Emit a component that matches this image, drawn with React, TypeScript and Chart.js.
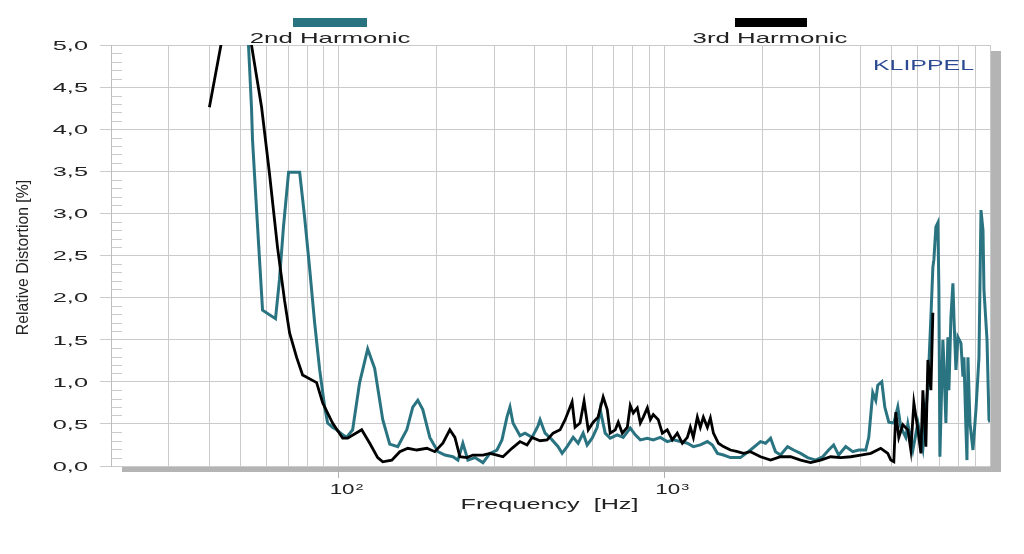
import React, { useEffect, useRef } from 'react';
import { Chart, registerables } from 'chart.js';

Chart.register(...registerables);

// 2nd harmonic (teal)
const h2Freq = [
  52.1, 52.9, 54.0, 54.4, 55.9, 57.1, 58.4, 64.0, 65.8, 67.7, 70.2, 75.9, 78.6, 81.4, 84.4, 87.4, 90.6, 92.5,
  95.8, 98.6, 102.9, 105.8, 110.4, 116.0, 122.8, 129.0, 136.6, 143.5, 151.9, 161.9, 168.9, 175.0, 181.3, 190.5,
  201.7, 212.0, 224.3, 232.4, 240.7, 249.4, 262.1, 277.4, 291.5, 306.3, 317.3, 328.7, 335.8, 343.0, 360.5,
  373.5, 392.5, 409.7, 415.4, 430.4, 452.3, 471.9, 485.5, 503, 524.8, 543.7, 563.3, 579.5, 600.3, 622, 635.4,
  658.3, 682, 716.8, 747.8, 786, 814.2, 844, 887, 925, 972.1, 1021, 1066, 1120, 1177, 1228, 1290, 1356, 1405,
  1456, 1519, 1596, 1713, 1839, 1974, 2046, 2120, 2195, 2275, 2390, 2494, 2621, 2754, 2915, 3064, 3196, 3311,
  3430, 3606, 3789, 3954, 4154, 4244, 4365, 4459, 4523, 4653, 4753, 4890, 5066, 5211, 5323, 5514, 5594, 5797,
  6006, 6222, 6446, 6585, 6677, 6725, 6821, 6918, 6967, 7017, 7167, 7218, 7321, 7425, 7478, 7586, 7694, 7749,
  7860, 7971, 8143, 8259, 8318, 8437, 8497, 8557, 8680, 8865, 9055, 9250, 9383, 9517, 9583, 9790, 9929, 10000,
];
const h2Val = [
  5.45, 4.98, 4.26, 3.87, 3.08, 2.48, 1.85, 1.75, 2.21, 2.84, 3.49, 3.49, 2.96, 2.36, 1.70, 1.15, 0.70, 0.51,
  0.46, 0.43, 0.37, 0.34, 0.43, 0.99, 1.39, 1.16, 0.55, 0.26, 0.23, 0.43, 0.70, 0.78, 0.67, 0.34,
  0.17, 0.13, 0.11, 0.07, 0.27, 0.07, 0.10, 0.04, 0.15, 0.19, 0.31, 0.58, 0.70, 0.51, 0.36,
  0.39, 0.34, 0.48, 0.55, 0.39, 0.31, 0.23, 0.15, 0.23, 0.34, 0.27, 0.39, 0.25, 0.33, 0.46, 0.67,
  0.39, 0.33, 0.37, 0.34, 0.45, 0.37, 0.31, 0.33, 0.31, 0.34, 0.29, 0.31, 0.29, 0.27, 0.23, 0.25, 0.29, 0.25,
  0.15, 0.13, 0.10, 0.10, 0.19, 0.29, 0.27, 0.33, 0.17, 0.13, 0.23, 0.19, 0.15, 0.10, 0.07, 0.11, 0.19, 0.25,
  0.13, 0.23, 0.17, 0.19, 0.19, 0.34, 0.87, 0.78, 0.96, 1.0, 0.70, 0.52, 0.51, 0.70, 0.46, 0.34, 0.50, 0.19,
  0.51, 0.21, 0.94, 1.77, 2.36, 2.45, 2.84, 2.89, 2.09, 0.11, 1.5, 1.22, 0.51, 1.53, 0.90, 1.77, 2.17, 1.77,
  1.14, 1.53, 1.46, 1.06, 1.29, 0.43, 0.07, 1.29, 0.51, 0.19, 0.67, 1.29, 3.04, 2.80, 2.09, 1.5, 0.55, 0.52,
];

// 3rd harmonic (black)
const h3Freq = [
  40.1, 48.6, 54.0, 58.0, 61.3, 64.9, 68.2, 70.7, 74.3, 77.5, 85.6, 89.3, 95.8, 102.9, 106.6, 117.7, 124.6,
  131.8, 136.6, 145.6, 154.1, 163.1, 173.8, 186.6, 197.4, 208.9, 219.5, 227.5, 235.7, 247.6, 258.4, 277.4,
  291.5, 306.3, 319.6, 340.6, 360.5, 378.8, 392.5, 415.4, 436.5, 455.5, 478.6, 495.9, 521, 532, 551, 567, 584,
  605, 626, 649, 668, 682, 707, 722, 743, 770, 786, 803, 826, 844, 862, 887, 906, 925, 958, 986, 1021, 1058,
  1096, 1136, 1177, 1202, 1228, 1263, 1290, 1318, 1356, 1385, 1415, 1466, 1519, 1596, 1677, 1751, 1839, 1974,
  2120, 2275, 2442, 2621, 2813, 3020, 3242, 3480, 3735, 4010, 4304, 4619, 4855, 4959, 5066, 5138, 5248, 5399,
  5594, 5714, 5838, 6006, 6135, 6222, 6355, 6446, 6585, 6677,
];
const h3Val = [
  4.26, 6.0, 5.0, 4.26, 3.48, 2.6, 1.97, 1.58, 1.29, 1.08, 0.99, 0.75, 0.51, 0.33, 0.33, 0.43, 0.27,
  0.10, 0.05, 0.07, 0.17, 0.21, 0.19, 0.21, 0.17, 0.27, 0.43, 0.34, 0.11, 0.10, 0.13, 0.13,
  0.15, 0.13, 0.11, 0.21, 0.29, 0.25, 0.34, 0.30, 0.31, 0.39, 0.43, 0.55, 0.76, 0.46, 0.51, 0.77, 0.43,
  0.52, 0.58, 0.82, 0.67, 0.39, 0.43, 0.52, 0.39, 0.46, 0.72, 0.63, 0.69, 0.51, 0.58, 0.69, 0.55, 0.61, 0.55, 0.39, 0.43, 0.31,
  0.39, 0.27, 0.34, 0.46, 0.34, 0.58, 0.46, 0.58, 0.46, 0.57, 0.39, 0.27, 0.23, 0.19, 0.17, 0.15, 0.17, 0.11,
  0.07, 0.11, 0.11, 0.07, 0.04, 0.07, 0.11, 0.10, 0.11, 0.13, 0.15, 0.21, 0.15, 0.07, 0.05, 0.64, 0.34, 0.49,
  0.43, 0.19, 0.75, 0.43, 0.15, 0.90, 0.23, 1.26, 0.90, 1.82,
];

// axes
const gridFreqs = [
  20, 30, 40, 50, 60, 70, 80, 90, 100, 200, 300, 400, 500, 600, 700, 800, 900,
  1000, 2000, 3000, 4000, 5000, 6000, 7000, 8000, 9000, 10000,
];
const xLabelFreqs = [100, 1000];
const xLabelExps = ['2', '3'];
const yTickValues = [0, 0.5, 1, 1.5, 2, 2.5, 3, 3.5, 4, 4.5, 5];
const yTickLabels = ['0,0', '0,5', '1,0', '1,5', '2,0', '2,5', '3,0', '3,5', '4,0', '4,5', '5,0'];

const TEAL = '#2a7482';
const GRID = '#cacaca';
const TEXT = '#222222';
const FONT = '"Liberation Sans", Arial, sans-serif';

// the reference texts are wide (stretched horizontally)
function wideText(
  ctx: CanvasRenderingContext2D, text: string, x: number, y: number,
  size: number, sx: number, align: 'left' | 'center' | 'right', color = TEXT,
) {
  ctx.save();
  ctx.font = `${size}px ${FONT}`;
  ctx.fillStyle = color;
  ctx.textBaseline = 'alphabetic';
  ctx.textAlign = 'left';
  const w = ctx.measureText(text).width * sx;
  let x0 = x;
  if (align === 'center') x0 = x - w / 2;
  if (align === 'right') x0 = x - w;
  ctx.translate(x0, y);
  ctx.scale(sx, 1);
  ctx.fillText(text, 0, 0);
  ctx.restore();
  return w;
}

const framePlugin = {
  id: 'frame',
  beforeDraw(chart: any) {
    const { ctx, chartArea: a } = chart;
    ctx.save();
    ctx.fillStyle = '#ffffff';
    ctx.fillRect(0, 0, chart.width, chart.height);
    ctx.fillStyle = '#b4b4b4';
    ctx.fillRect(a.left + 11, a.top + 6, a.right - a.left, a.bottom - a.top);
    ctx.fillStyle = '#ffffff';
    ctx.fillRect(a.left, a.top, a.right - a.left, a.bottom - a.top);
    ctx.restore();
  },
  beforeDatasetsDraw(chart: any) {
    const { ctx, chartArea: a, scales } = chart;
    ctx.save();
    ctx.strokeStyle = GRID;
    ctx.lineWidth = 1;
    for (let i = 1; i < 50; i++) {
      if (i % 5 === 0) continue;
      const y = Math.round(scales.y.getPixelForValue(i / 10)) + 0.5;
      ctx.beginPath();
      ctx.moveTo(a.left, y);
      ctx.lineTo(a.left + 11, y);
      ctx.stroke();
    }
    ctx.restore();
  },
  afterDraw(chart: any) {
    const { ctx, chartArea: a, scales } = chart;
    // y tick labels
    yTickValues.forEach((v, i) => {
      const y = scales.y.getPixelForValue(v);
      wideText(ctx, yTickLabels[i], 88, y + 4.8, 13, 1.95, 'right');
    });
    // x tick labels 10^n
    xLabelFreqs.forEach((f, i) => {
      const x = scales.x.getPixelForValue(f) - 9;
      const w = wideText(ctx, '10', x, a.bottom + 28, 14, 1.6, 'left');
      wideText(ctx, xLabelExps[i], x + w + 1, a.bottom + 23.5, 9, 1.6, 'left');
    });
    // axis titles
    wideText(ctx, 'Frequency  [Hz]', (a.left + a.right) / 2 - 1, a.bottom + 43, 15, 1.68, 'center');
    ctx.save();
    ctx.translate(28, (a.top + a.bottom) / 2 + 2);
    ctx.rotate(-Math.PI / 2);
    ctx.font = `15.8px ${FONT}`;
    ctx.fillStyle = TEXT;
    ctx.textAlign = 'center';
    ctx.textBaseline = 'alphabetic';
    ctx.fillText('Relative Distortion [%]', 0, 0);
    ctx.restore();
    // legend
    ctx.save();
    ctx.fillStyle = TEAL;
    ctx.fillRect(293, 18, 74, 9);
    ctx.fillStyle = '#000000';
    ctx.fillRect(735, 18, 72, 9);
    ctx.restore();
    wideText(ctx, '2nd Harmonic', 330, 43, 15, 1.72, 'center');
    wideText(ctx, '3rd Harmonic', 770, 43, 15, 1.72, 'center');
    wideText(ctx, 'KLIPPEL', 873, 70, 15, 1.66, 'left', '#2c4a94');
  },
};

export default function App() {
  const canvasRef = useRef<HTMLCanvasElement | null>(null);

  useEffect(() => {
    if (!canvasRef.current) return;
    const chart = new Chart(canvasRef.current, {
      type: 'line',
      data: {
        datasets: [
          {
            label: '2nd Harmonic',
            data: h2Freq.map((f, i) => ({ x: f, y: h2Val[i] })),
            borderColor: TEAL,
            borderWidth: 3,
            pointRadius: 0,
            tension: 0,
            clip: 0,
            order: 1,
          },
          {
            label: '3rd Harmonic',
            data: h3Freq.map((f, i) => ({ x: f, y: h3Val[i] })),
            borderColor: '#000000',
            borderWidth: 2.8,
            pointRadius: 0,
            tension: 0,
            clip: 0,
            order: 0,
          },
        ],
      },
      options: {
        responsive: false,
        animation: false,
        devicePixelRatio: 1,
        layout: { padding: { top: 45, right: 34, left: 0, bottom: 0 } },
        plugins: {
          legend: { display: false },
          tooltip: { enabled: false },
        },
        scales: {
          x: {
            type: 'logarithmic',
            min: 20,
            max: 10000,
            afterBuildTicks: (s: any) => {
              s.ticks = gridFreqs.map((v) => ({ value: v }));
            },
            afterFit: (s: any) => {
              s.height = 88;
            },
            ticks: { display: false },
            grid: {
              color: GRID,
              lineWidth: 1,
              tickLength: 12,
              tickColor: (c: any) => (xLabelFreqs.includes(c.tick?.value) ? '#b0b0b0' : 'rgba(0,0,0,0)'),
            },
            border: { display: false },
          },
          y: {
            type: 'linear',
            min: 0,
            max: 5,
            afterFit: (s: any) => {
              s.width = 111;
            },
            ticks: { display: false, stepSize: 0.5 },
            grid: { color: GRID, lineWidth: 1, tickLength: 11, tickColor: GRID },
            border: { color: '#bdbdbd' },
          },
        },
      },
      plugins: [framePlugin],
    } as any);
    return () => chart.destroy();
  }, []);

  return (
    <div style={{ position: 'absolute', left: 0, top: 0, width: 1024, height: 554, background: '#fff' }}>
      <canvas ref={canvasRef} width={1024} height={554} style={{ display: 'block' }} />
    </div>
  );
}
